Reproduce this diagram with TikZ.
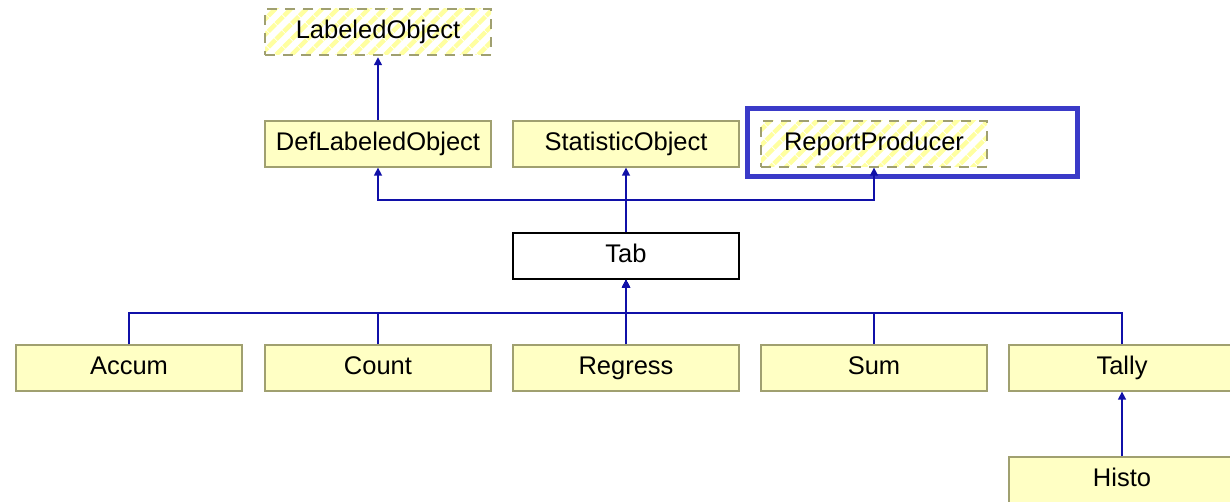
\documentclass[tikz,border=0pt]{standalone}
\usepackage{fontspec}
\setmainfont{Liberation Sans}
\usetikzlibrary{arrows.meta,patterns.meta}
\definecolor{boxfill}{HTML}{FFFFC4}
\definecolor{boxline}{HTML}{A0A070}
\definecolor{hatch}{HTML}{FFFFA0}
\definecolor{edgeblue}{HTML}{1010A8}
\definecolor{hilite}{HTML}{3A3AC8}
\tikzset{
  boxtext/.style={minimum width=226pt, minimum height=46pt, inner sep=0pt, text height=18pt, text depth=5pt, font=\fontsize{25.5}{30}\selectfont},
  cls/.style={boxtext, draw=boxline, fill=boxfill, line width=1.3pt},
  iface/.style={boxtext, draw=boxline, dash pattern=on 10pt off 8pt, line width=1.3pt, pattern={Lines[angle=45,distance=11pt,line width=4.5pt]}, pattern color=hatch},
  plain/.style={boxtext, draw=black, fill=white, line width=1.3pt},
  edge/.style={draw=edgeblue, line width=1.5pt},
  inh/.style={edge, -{Triangle[width=8pt,length=8pt]}},
}
\begin{document}
\begin{tikzpicture}[x=1pt,y=-1pt]
\useasboundingbox (0,0) rectangle (1230,502);
\fill[white] (0,0) rectangle (1230,502);
\node[iface] (lab) at (378,32) {LabeledObject};
\node[cls] (deflab) at (378,144) {DefLabeledObject};
\node[cls] (stat) at (626,144) {StatisticObject};
\node[iface] (rep) at (874,144) {ReportProducer};
\node[draw=hilite, line width=5pt, minimum width=330pt, minimum height=68pt, inner sep=0pt] (hl) at (912,143) {};
\node[plain] (tab) at (626,256) {Tab};
\node[cls] (accum) at (129,368) {Accum};
\node[cls] (count) at (378,368) {Count};
\node[cls] (regress) at (626,368) {Regress};
\node[cls] (sum) at (874,368) {Sum};
\node[cls] (tally) at (1122,368) {Tally};
\node[cls] (histo) at (1122,480) {Histo};
\coordinate (busU) at (626,200);
\coordinate (busL) at (626,313);
\draw[inh] (deflab.north) -- (lab.south);
\draw[inh] (tab.north) -- (stat.south);
\draw[inh] (tab.north) -- (busU) -| (deflab.south);
\draw[inh] (tab.north) -- (busU) -| (rep.south);
\draw[inh] (accum.north) |- (busL) -- (tab.south);
\draw[inh] (count.north) |- (busL) -- (tab.south);
\draw[inh] (regress.north) -- (tab.south);
\draw[inh] (sum.north) |- (busL) -- (tab.south);
\draw[inh] (tally.north) |- (busL) -- (tab.south);
\draw[inh] (histo.north) -- (tally.south);
\end{tikzpicture}
\end{document}
